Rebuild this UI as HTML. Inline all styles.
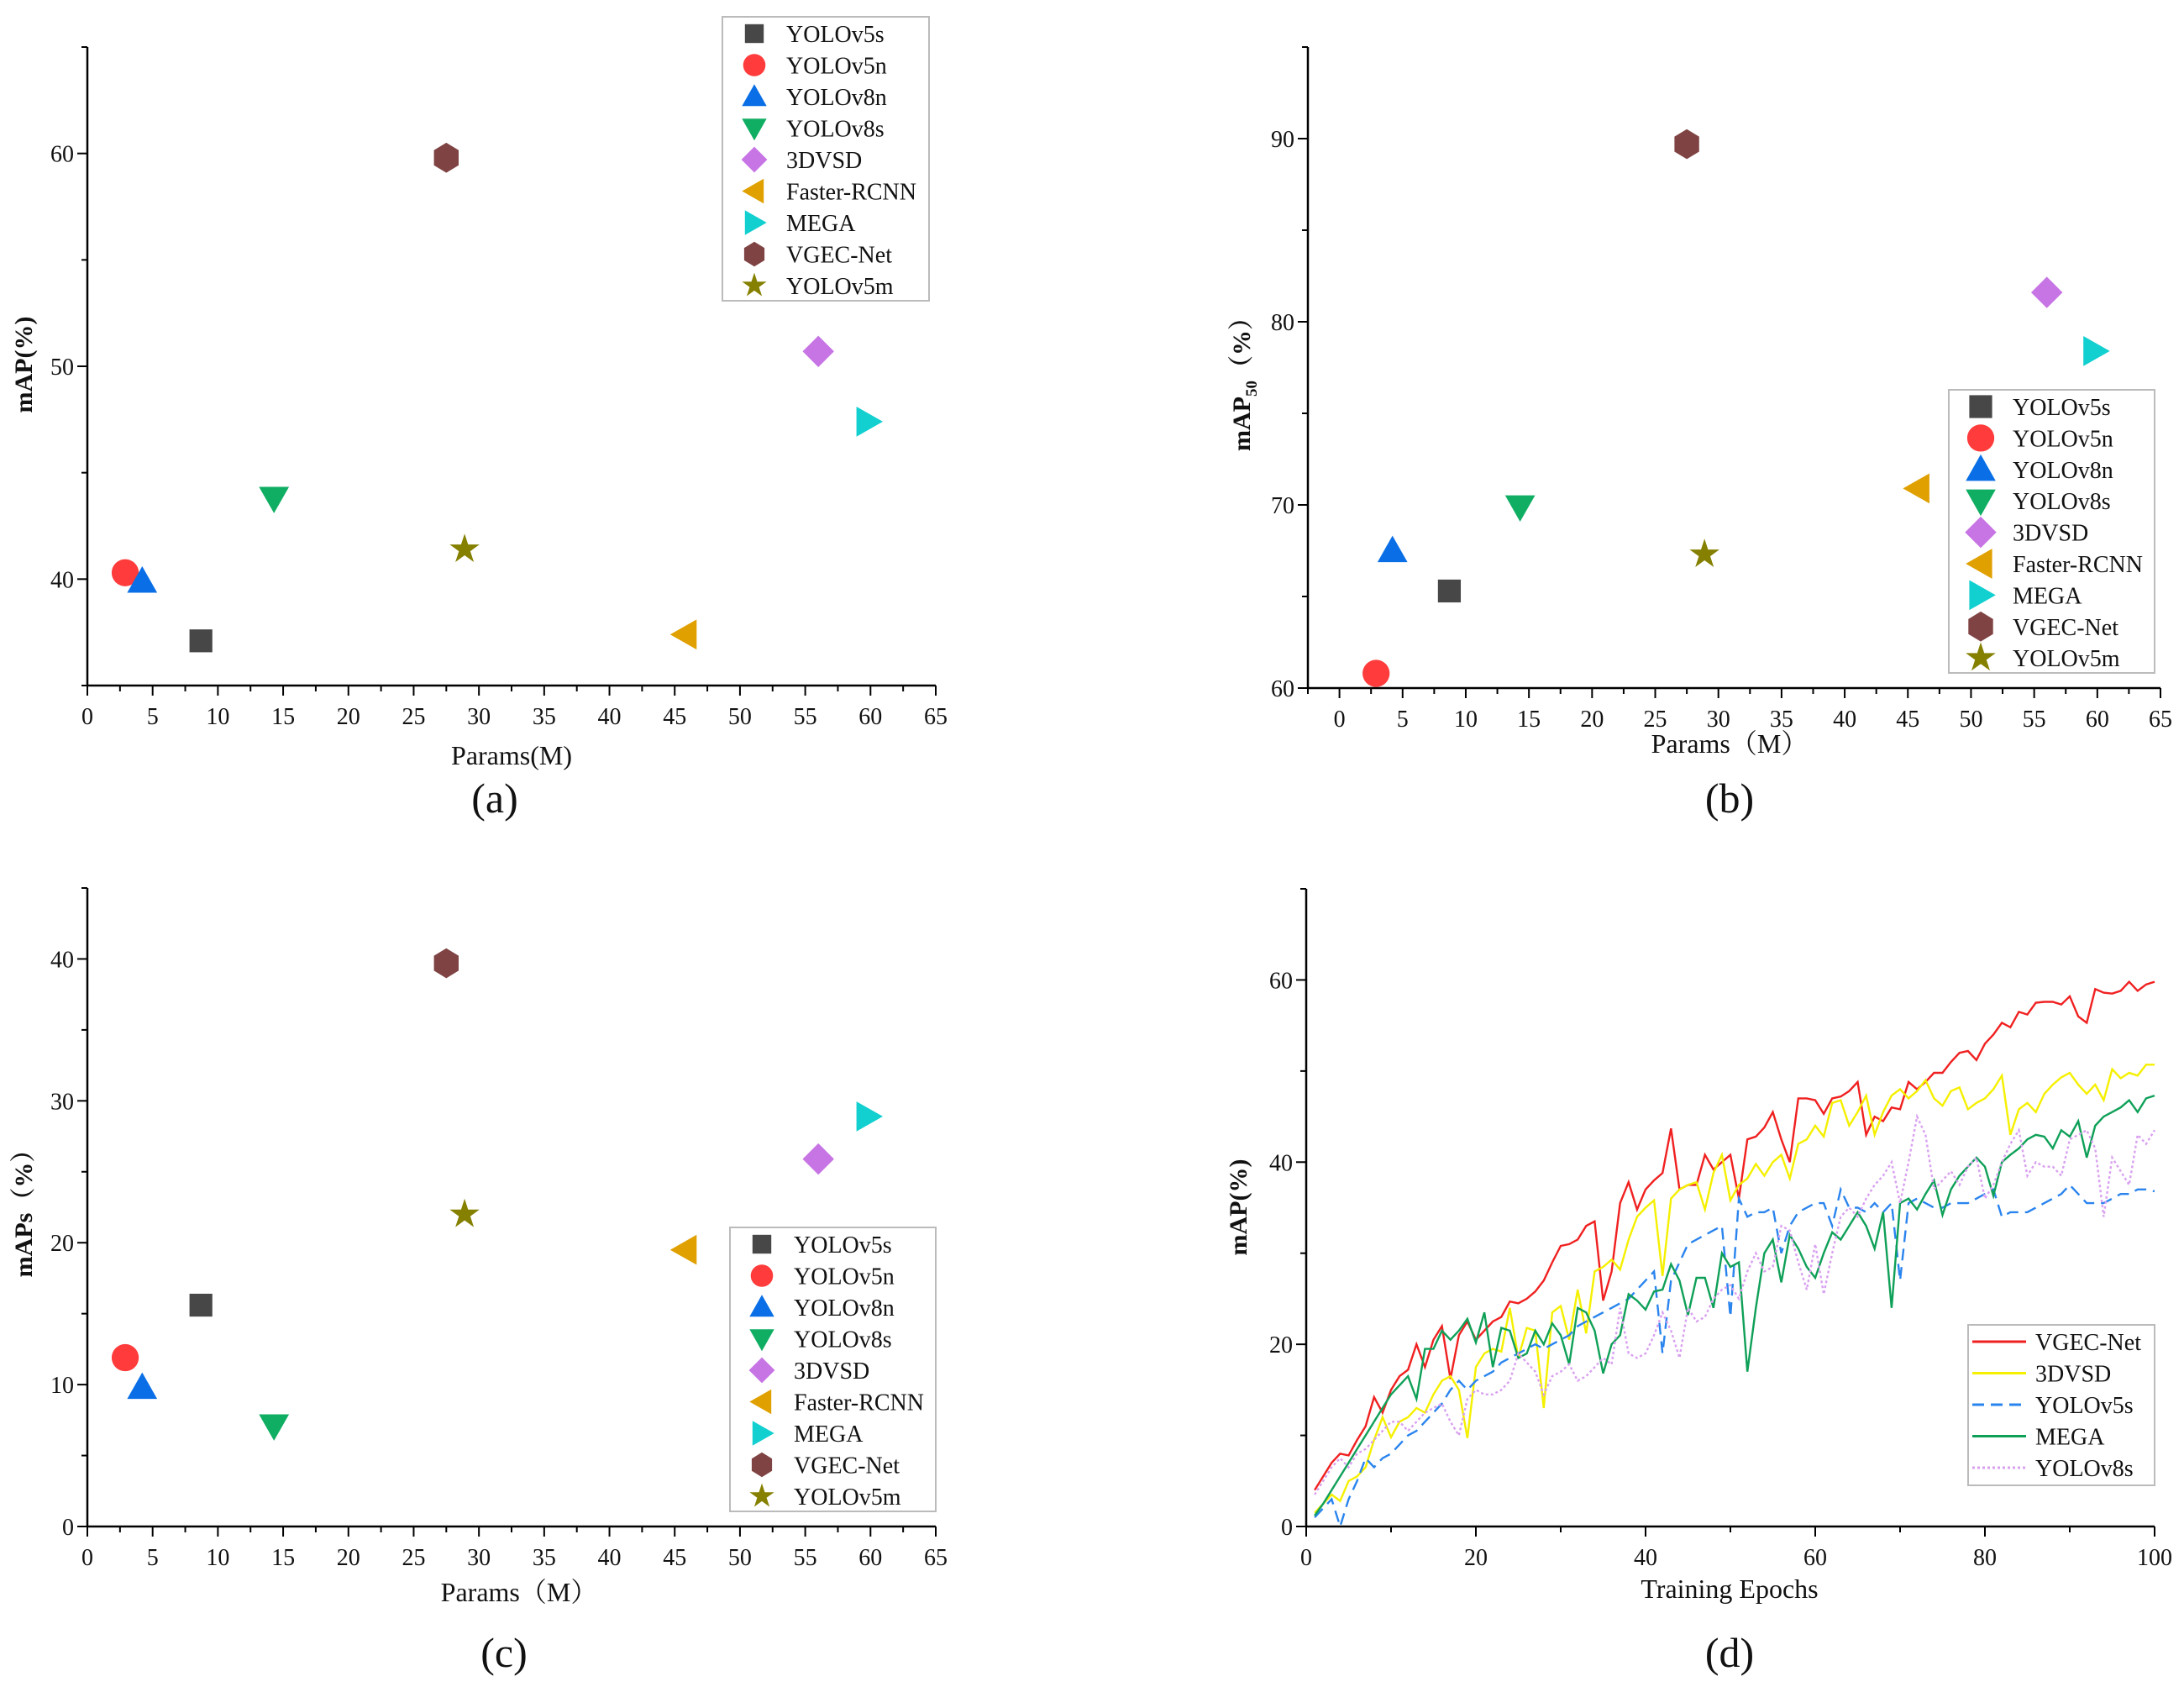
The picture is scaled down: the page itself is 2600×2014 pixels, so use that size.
<!DOCTYPE html>
<html><head><meta charset="utf-8">
<style>
html,body{margin:0;padding:0;background:#fff;}
svg{display:block;font-family:"Liberation Serif","Noto Serif CJK SC",serif;}
</style></head>
<body>
<svg id="fig" width="2600" height="2014" viewBox="0 0 2600 2014" xmlns="http://www.w3.org/2000/svg"></svg>
<script>
// ---- data ----
const models = ["YOLOv5s","YOLOv5n","YOLOv8n","YOLOv8s","3DVSD","Faster-RCNN","MEGA","VGEC-Net","YOLOv5m"];
const params = [8.7,2.9,4.2,14.3,56,45.8,59.8,27.5,28.9];
const mapA = [37.1,40.3,39.9,43.8,50.7,37.4,47.4,59.8,41.4];
const map50 = [65.3,60.8,67.5,69.9,81.6,70.9,78.4,89.7,67.3];
const mapS = [15.6,11.9,9.8,7.1,25.9,19.5,28.9,39.7,22.0];
const ticksA_y = [40,50,60];
const ticksB_y = [60,70,80,90];
const ticksC_y = [0,10,20,30,40];
const ticksX = [0,5,10,15,20,25,30,35,40,45,50,55,60,65];
const lineNames = ["VGEC-Net","3DVSD","YOLOv5s","MEGA","YOLOv8s"];
const vgec = [4,5.5,7,8,7.8,9.5,11,14.2,12.5,15,16.5,17.2,20,17.5,20.5,22,16.2,21,22.5,20.5,21.5,22.5,23,24.7,24.5,25,25.8,27,29,30.8,31,31.5,33,33.5,24.8,28,35.5,37.8,34.8,37,38,38.8,43.7,37,37.5,37.5,40.8,39.2,40,40.8,36,42.5,42.8,43.8,45.5,42.5,40,47,47,46.8,45.3,47,47.2,47.8,48.8,43,45,44.5,46,45.8,48.8,48,48.8,49.8,49.8,51,52,52.2,51.2,53,54,55.3,54.8,56.5,56.2,57.5,57.6,57.6,57.3,58.2,56,55.3,59,58.6,58.5,58.8,59.8,58.8,59.5,59.8];
const dvsd = [1.5,2.5,3.5,2.8,5,5.5,6.5,9.5,12,9.8,11.5,12,13,12.5,14.5,16,16.5,15,9.7,17.5,19,19.5,19.2,24,18.5,21.8,21.5,13,23.5,24.2,20.5,26,21.2,28,28.5,29.3,28.2,31.5,34,35,35.8,27.5,36,37,37.5,37.8,34.8,38.8,40.8,35.8,37.5,38.2,39.8,38.5,40,40.8,38.2,42,42.5,44,42.8,46.5,46.8,44,45.5,47.3,43,45.5,47.3,48,47,47.8,49,47,46.2,47.8,48.2,45.8,46.5,47,48,49.5,43,45.8,46.5,45.5,47.5,48.5,49.3,49.8,48.5,47.5,48.5,46.8,50.2,49.2,49.8,49.5,50.7,50.7];
const v5s = [1,2,3,0,3,5,7.5,6.5,7.5,8,9,10,10.5,11.5,12.5,13.5,15,16,15,16,16.5,17,18,18.5,19,19.5,20,19.5,20,20.5,21,22,22.5,23,23.5,24,24.5,25,26,27,28,19,27,29,31,31.5,32,32.5,33,23,36,34,34.5,34.5,35,30,33,34.5,35,35.5,35.5,33,37,35,35,34.5,35.5,34.5,35.5,27,35.5,36,35.5,35,35,35.5,35.5,35.5,36,36.5,37,34,34.5,34.5,34.5,35,35.5,36,36.5,37.5,36.5,35.5,35.5,35.5,36,36.5,36.5,37,37,36.8];
const mega = [1.2,2.5,4,5.5,7,8.5,10,11.5,13,14.5,15.5,16.5,14,19.5,19.5,21.5,20.5,21.5,22.8,20.2,23.5,17.5,21.8,21.5,18.5,19,21.5,20,22.3,21,17.8,24,23.5,21.5,16.8,20,21,25.5,24.8,23.8,25.8,26,28.8,27,23.2,27.3,27.3,24,30,28.5,29,17,24,30,31.5,26.8,32,30.5,28.5,27.3,30,32.3,31.5,33,34.5,33,30.5,34.5,24,35.5,36,34.8,36.5,38,34.2,37,38.5,39.5,40.5,39.5,36.3,40,40.8,41.5,42.5,43,42.8,41.5,43.5,42.8,44.5,40.5,44,45,45.5,46,46.8,45.5,47,47.3];
const v8s = [3.5,5,6.5,7.5,6.5,8,8.5,9.5,10.5,11.5,11.5,10.5,11.5,12.5,13,13.5,11.5,10,14,15,14.5,14.5,15,16,19,18,17,14.5,16.5,17,17.8,16,16.5,17.5,18.5,17.8,24,19,18.5,19,21,23.5,21.5,18.5,24,22.5,23,25,26,26.5,25,28,30,28,28.5,33,32.5,29,26,31,25.5,30,34,35,34,36,37.5,38.5,40,35.5,40,45,43,37,38,39,37.5,39.5,40.5,36,37.5,40,42,43.5,38.5,40,39.5,39.5,38.5,42.5,43,43.5,41.5,34,40.5,39,37.5,43,42,43.5];
const ticksD_x = [0,20,40,60,80,100];
const ticksD_y = [0,20,40,60];

// ---- helpers ----
const NS="http://www.w3.org/2000/svg";
const svg=document.getElementById('fig');
function mk(tag,attrs,parent){const e=document.createElementNS(NS,tag);for(const k in attrs)e.setAttribute(k,attrs[k]);(parent||svg).appendChild(e);return e;}
function txt(x,y,s,size,anchor,parent,extra){const t=mk('text',Object.assign({x:x,y:y,'font-size':size,'text-anchor':anchor||'middle',fill:'#111'},extra||{}),parent);t.textContent=s;return t;}
const colors=["#474747","#ff3b3b","#0a6fe6","#10ae63","#c774e4","#e0a000","#12cfd0","#7f4343","#858000"];
const shapes=["square","circle","up","down","diamond","left","right","hex","star"];
function marker(shape,cx,cy,r,color,parent){
  if(shape==="circle"){return mk('circle',{cx:cx,cy:cy,r:r*0.95,fill:color},parent);}
  if(shape==="square"){return mk('rect',{x:cx-r*0.8,y:cy-r*0.8,width:r*1.6,height:r*1.6,fill:color},parent);}
  let pts=[];
  if(shape==="up")pts=[[0,-1.05],[1.05,0.8],[-1.05,0.8]];
  if(shape==="down")pts=[[0,1.05],[1.05,-0.8],[-1.05,-0.8]];
  if(shape==="left")pts=[[-1.05,0],[0.8,-1.05],[0.8,1.05]];
  if(shape==="right")pts=[[1.05,0],[-0.8,-1.05],[-0.8,1.05]];
  if(shape==="diamond")pts=[[0,-1.1],[1.1,0],[0,1.1],[-1.1,0]];
  if(shape==="hex"){for(let i=0;i<6;i++){const a=Math.PI/6+i*Math.PI/3;pts.push([Math.cos(a)*1.05,Math.sin(a)*1.05]);}pts=pts.map(p=>[p[0]*0.95,p[1]]);}
  if(shape==="star"){for(let i=0;i<10;i++){const a=-Math.PI/2+i*Math.PI/5;const rr=i%2?0.42:1.1;pts.push([Math.cos(a)*rr,Math.sin(a)*rr]);}}
  return mk('polygon',{points:pts.map(p=>(cx+p[0]*r).toFixed(1)+','+(cy+p[1]*r).toFixed(1)).join(' '),fill:color},parent);
}
function axes(g,P,xt,yt,xminor,yminor){
  const sx=v=>P.x0+(v-P.xmin)/(P.xmax-P.xmin)*(P.x1-P.x0);
  const sy=v=>P.y0-(v-P.ymin)/(P.ymax-P.ymin)*(P.y0-P.y1);
  const ax=mk('g',{},g);
  
  
  mk('line',{x1:P.x0,y1:P.y0,x2:P.x1,y2:P.y0,stroke:'#000','stroke-width':2.5},ax);
  mk('line',{x1:P.x0,y1:P.y0,x2:P.x0,y2:P.y1,stroke:'#000','stroke-width':2.5},ax);
  xt.forEach(v=>{const x=sx(v);mk('line',{x1:x,y1:P.y0,x2:x,y2:P.y0+12,stroke:'#000','stroke-width':2},ax);const t=txt(x,P.y0+46,String(v),28,'middle',ax);});
  xminor.forEach(v=>{const x=sx(v);mk('line',{x1:x,y1:P.y0,x2:x,y2:P.y0+7,stroke:'#000','stroke-width':2},ax);});
  yt.forEach(v=>{const y=sy(v);mk('line',{x1:P.x0-12,y1:y,x2:P.x0,y2:y,stroke:'#000','stroke-width':2},ax);const t=txt(P.x0-16,y+10,String(v),28,'end',ax);});
  yminor.forEach(v=>{const y=sy(v);mk('line',{x1:P.x0-7,y1:y,x2:P.x0,y2:y,stroke:'#000','stroke-width':2},ax);});
  return {sx,sy};
}
function range(a,b,s){const r=[];for(let v=a;v<=b+1e-9;v+=s)r.push(+v.toFixed(3));return r;}

function scatterPanel(name,P,yvals,yt,yminor,xminor,leg,ms,lms){
  const g=mk('g',{});
  
  
  const {sx,sy}=axes(g,P,ticksX,yt,xminor,yminor);
  params.forEach((p,i)=>{
    const m=marker(shapes[i],sx(p),sy(yvals[i]),ms,colors[i],g);
    
    
  });
  const lg=mk('g',{},g);
  
  
  mk('rect',{x:leg.x,y:leg.y,width:leg.w,height:leg.h,fill:'#fff',stroke:'#bbb','stroke-width':2},lg);
  models.forEach((m,i)=>{
    const cy=leg.y+20+i*leg.step;
    const e=mk('g',{},lg);
    
    
    marker(shapes[i],leg.x+38,cy,lms,colors[i],e);
    txt(leg.x+76,cy+10,m,28,'start',e);
  });
  return g;
}
const xminA=range(2.5,62.5,5);
scatterPanel('panel-a-map-scatter',{x0:104,x1:1114,y0:816,y1:56,xmin:0,xmax:65,ymin:35,ymax:65},mapA,ticksA_y,[35,45,55,65],xminA,{x:860,y:20,w:246,h:338,step:37.5},17,14);
scatterPanel('panel-b-map50-scatter',{x0:1557,x1:2572,y0:819,y1:56,xmin:-2.5,xmax:65,ymin:60,ymax:95},map50,ticksB_y,[65,75,85,95],range(-2.5,62.5,5),{x:2320,y:464,w:245,h:337,step:37.4},17,17);
scatterPanel('panel-c-maps-scatter',{x0:104,x1:1114,y0:1817,y1:1057,xmin:0,xmax:65,ymin:0,ymax:45},mapS,ticksC_y,[5,15,25,35,45],xminA,{x:869,y:1461,w:245,h:338,step:37.5},17,14);

function label(s,x,y,size,nm,rot){const t=txt(x,y,s,size,'middle',svg,rot?{transform:'rotate(-90 '+x+' '+y+')','font-weight':'bold'}:{});return t;}
label('Params(M)',609,910,32,'x-axis-title-a');
label('mAP(%)',38,434,30,'y-axis-title-a',true);
label('(a)',589,967,50,'caption-a');
label('Params（M）',2059,896,32,'x-axis-title-b');
const yb=label('mAP',1488,450,30,'y-axis-title-b',true);
const sub=document.createElementNS(NS,'tspan');sub.setAttribute('font-size','19');sub.setAttribute('dy','8');sub.textContent='50';yb.appendChild(sub);
const sub2=document.createElementNS(NS,'tspan');sub2.setAttribute('dy','-8');sub2.textContent='（%）';yb.appendChild(sub2);
label('(b)',2059,967,50,'caption-b');
label('Params（M）',618,1906,32,'x-axis-title-c');
label('mAPs（%）',38,1437,30,'y-axis-title-c',true);
label('(c)',600,1984,50,'caption-c');
label('Training Epochs',2059,1902,32,'x-axis-title-d');
label('mAP(%)',1484,1437,30,'y-axis-title-d',true);
label('(d)',2059,1984,50,'caption-d');

const gD=mk('g',{});


const PD={x0:1555,x1:2565,y0:1817,y1:1058,xmin:0,xmax:100,ymin:0,ymax:70};
const D=axes(gD,PD,ticksD_x,ticksD_y,[10,30,50,70,90],[10,30,50,70]);
const series=[vgec,dvsd,v5s,mega,v8s];
const sColors=["#f02020","#f5f000","#2a84ee","#0fa058","#d9a0f0"];
const dashes=["","","14,8","","3,3"];
series.forEach((s,i)=>{
  const d=s.map((v,k)=>(k?'L':'M')+D.sx(k+1).toFixed(1)+','+D.sy(v).toFixed(1)).join(' ');
  const p=mk('path',{d:d,fill:'none',stroke:sColors[i],'stroke-width':2.4,'stroke-dasharray':dashes[i]},gD);
  
  
});
const lgD=mk('g',{},gD);


mk('rect',{x:2343,y:1577,width:222,height:191,fill:'#fff',stroke:'#bbb','stroke-width':2},lgD);
lineNames.forEach((n,i)=>{
  const cy=1597+i*37.5;
  const e=mk('g',{},lgD);
  
  
  mk('line',{x1:2348,y1:cy,x2:2412,y2:cy,stroke:sColors[i],'stroke-width':3,'stroke-dasharray':dashes[i]},e);
  txt(2423,cy+10,n,28,'start',e);
});
</script>
</body></html>
